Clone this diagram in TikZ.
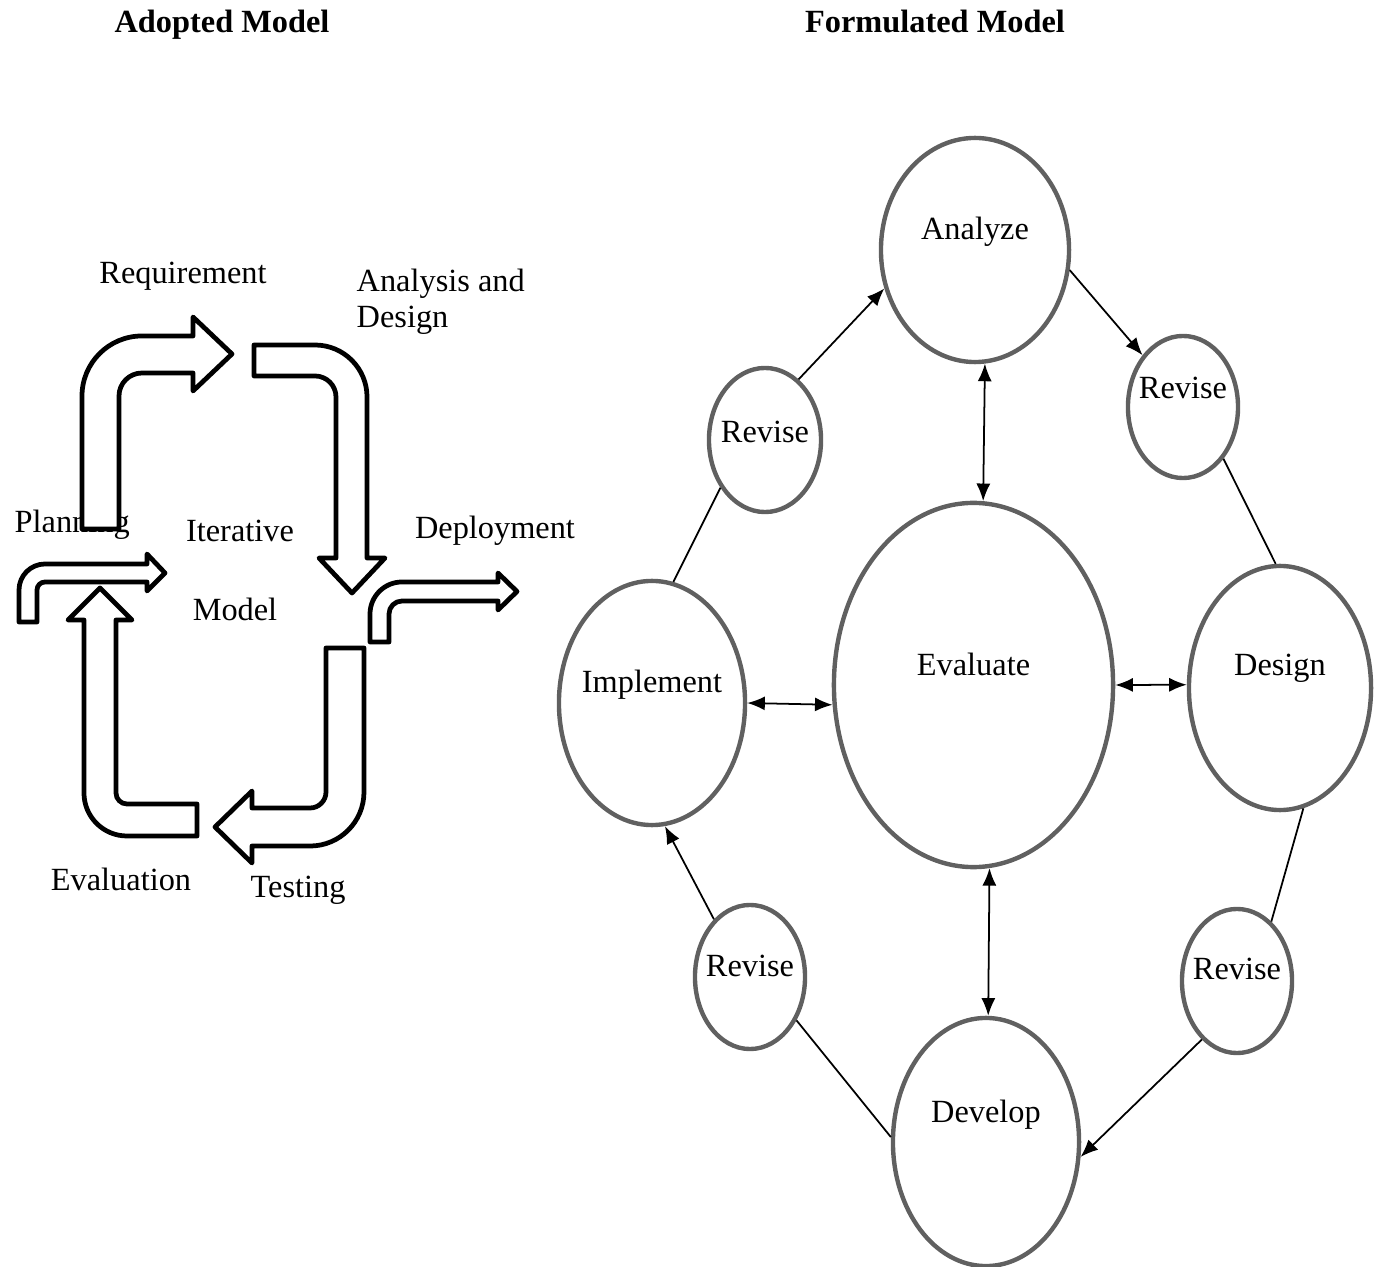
\documentclass[tikz,border=0pt]{standalone}
\usepackage{fontspec}
\setmainfont{Liberation Serif}
\usepackage{xcolor}
\usepackage{tikz}
\definecolor{ringgray}{RGB}{96, 96, 96}
\usetikzlibrary{shapes.geometric, arrows.meta}

\begin{document}
\begin{tikzpicture}[
    x=0.01cm, y=-0.01cm,
    >={Latex[length=5pt, width=4pt]},
    txt/.style={font=\fontsize{9.2}{10.3}\selectfont, inner sep=0pt, anchor=base},
    heading/.style={txt, font=\fontsize{9.2}{10.3}\selectfont\bfseries},
    ring/.style={ellipse, draw=ringgray, line width=1.25pt, inner ysep=0pt, inner xsep=-4pt,
                 text height=6.5pt, text depth=#1, font=\fontsize{9.2}{10.3}\selectfont},
    blockarrow/.style={draw=black, fill=white, line width=1.35pt, line join=round},
    link/.style={line width=0.5pt}
]
    \useasboundingbox (0,0) rectangle (1387,1267);

    \node[heading] (adopted) at (222,33) {Adopted Model};
    \node[heading] (formulated) at (935,33) {Formulated Model};

    \node[txt] (req) at (183,284) {Requirement};
    \node[txt, anchor=west, align=left] (anadesign) at (356,302) {Analysis and\\Design};
    \node[txt, anchor=base west] (plan) at (14,533) {Planning};
    \node[txt] (iter) at (240,542) {Iterative};
    \node[txt] (model) at (235,621) {Model};
    \node[txt] (deploy) at (495,539) {Deployment};
    \node[txt] (evaltxt) at (121,891) {Evaluation};
    \node[txt] (testtxt) at (298,897) {Testing};

    \draw[blockarrow] (82,529) -- (82,396) arc[start angle=180, end angle=90, radius=0.60cm]
        -- (193,336) -- (193,317) -- (232,354) -- (193,391) -- (193,373) -- (142,373)
        arc[start angle=90, end angle=180, radius=0.23cm] -- (119,529) -- cycle;
    \draw[blockarrow] (254,345) -- (315,345) arc[start angle=90, end angle=0, radius=0.52cm]
        -- (367,558) -- (385,558) -- (352,593) -- (319,558) -- (336,558) -- (336,397)
        arc[start angle=0, end angle=90, radius=0.21cm] -- (254,376) -- cycle;
    \draw[blockarrow] (19,622) -- (19,590) arc[start angle=180, end angle=90, radius=0.26cm]
        -- (147,564) -- (147,554) -- (165,573) -- (147,591) -- (147,582) -- (45,582)
        arc[start angle=90, end angle=180, radius=0.08cm] -- (37,622) -- cycle;
    \draw[blockarrow] (197,836) -- (127,836) arc[start angle=270, end angle=180, radius=0.43cm]
        -- (84,620) -- (68,620) -- (100,588) -- (132,620) -- (116,620) -- (116,793)
        arc[start angle=180, end angle=270, radius=0.11cm] -- (197,804) -- cycle;
    \draw[blockarrow] (370,642) -- (370,614) arc[start angle=180, end angle=90, radius=0.32cm]
        -- (498,582) -- (498,573) -- (517,591.5) -- (498,610) -- (498,601) -- (402,601)
        arc[start angle=90, end angle=180, radius=0.13cm] -- (389,642) -- cycle;
    \draw[blockarrow] (326,648) -- (364,648) -- (364,792) arc[start angle=0, end angle=-90, radius=0.54cm]
        -- (252,846) -- (252,863) -- (215,827) -- (252,791) -- (252,808) -- (310,808)
        arc[start angle=-90, end angle=0, radius=0.16cm] -- cycle;

    \node[ring=12.2pt, minimum width=1.88cm, minimum height=2.24cm] (analyze) at (975,250) {Analyze};
    \node[ring=11.1pt, minimum width=1.10cm, minimum height=1.42cm] (revtr) at (1183,407) {Revise};
    \node[ring=4.9pt, minimum width=1.12cm, minimum height=1.44cm] (revtl) at (765,440) {Revise};
    \node[ring=11.7pt, minimum width=2.79cm, minimum height=3.64cm] (evaluate) at (973.5,685) {Evaluate};
    \node[ring=12.2pt, minimum width=1.86cm, minimum height=2.44cm] (implement) at (652,703) {Implement};
    \node[ring=13.4pt, minimum width=1.82cm, minimum height=2.44cm] (design) at (1280,688) {Design};
    \node[ring=6.6pt, minimum width=1.10cm, minimum height=1.44cm] (revbl) at (750,977) {Revise};
    \node[ring=7.1pt, minimum width=1.10cm, minimum height=1.44cm] (revbr) at (1237,981) {Revise};
    \node[ring=17.4pt, minimum width=1.86cm, minimum height=2.48cm] (develop) at (986,1142) {Develop};

    \draw[link, ->] (revtl.61) -- (analyze.203);
    \draw[link, ->] (analyze.348) -- (revtr.128);
    \draw[link, <->] (analyze.275) -- (evaluate.87);
    \draw[link] (revtl.227) -- (implement.80);
    \draw[link] (revtr.308) -- (design.92);
    \draw[link, <->] (implement.0) -- (evaluate.188);
    \draw[link, <->] (evaluate.0) -- (design.178);
    \draw[link, <->] (evaluate.275) -- (develop.89);
    \draw[link, ->] (revbl.122) -- (implement.276);
    \draw[link] (revbl.317) -- (develop.177);
    \draw[link] (revbr.60) -- (design.281);
    \draw[link, ->] (revbr.239) -- (develop.351);
\end{tikzpicture}
\end{document}
